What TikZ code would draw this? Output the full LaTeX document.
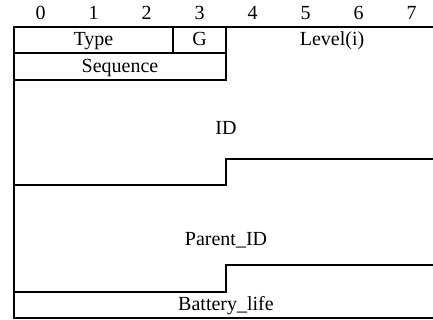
\documentclass[tikz,border=0pt]{standalone}
\usepackage{fontspec}
\setmainfont{Liberation Serif}
\begin{document}
\begin{tikzpicture}[x=1pt,y=-1pt,line width=1.3pt,
  lbl/.style={font=\fontsize{20}{20}\selectfont,inner sep=0pt,anchor=base},
  frame/.style={line width=1.3pt,line cap=rect}]
\useasboundingbox (0,0) rectangle (433,320);
\clip (0,0) rectangle (433,320);
% bit numbers
\foreach \i in {0,...,7} {
  \node[lbl] (b\i) at ({14+53*(\i+0.5)},20) {\i};
}
% corner coordinates
\coordinate (tl) at (14,27);
\coordinate (tr) at (438,27);
\coordinate (bl) at (14,318);
\coordinate (br) at (438,318);
\coordinate (g1) at (173,27);
\coordinate (g2) at (173,53);
\coordinate (m1) at (226,27);
\coordinate (m2) at (226,80);
\coordinate (r1l) at (14,53);
\coordinate (r2l) at (14,80);
\coordinate (ida) at (14,185);
\coordinate (idb) at (226,185);
\coordinate (idc) at (226,159);
\coordinate (idd) at (438,159);
\coordinate (pa) at (14,292);
\coordinate (pb) at (226,292);
\coordinate (pc) at (226,265);
\coordinate (pd) at (438,265);
% frame
\draw[frame] (tr) -- (tl) -- (bl) -- (br) -- cycle;
\draw[frame] (g1) -- (g2);
\draw[frame] (m1) -- (m2);
\draw[frame] (r1l) -- (g2 -| m1);
\draw[frame] (r2l) -- (m2);
\draw[frame] (ida) -- (idb) -- (idc) -- (idd);
\draw[frame] (pa) -- (pb) -- (pc) -- (pd);
% labels
\node[lbl] (type) at (93.5,46) {Type};
\node[lbl] (g) at (199.5,46) {G};
\node[lbl] (level) at (332,46) {Level(i)};
\node[lbl] (seq) at (120,73) {Sequence};
\node[lbl] (id) at (226,135) {ID};
\node[lbl] (pid) at (226,245) {Parent\_ID};
\node[lbl] (bat) at (226,310) {Battery\_life};
\end{tikzpicture}
\end{document}
